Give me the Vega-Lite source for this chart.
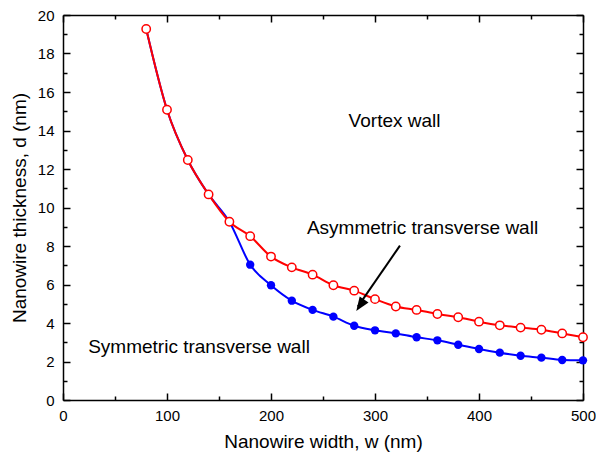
{
  "$schema": "https://vega.github.io/schema/vega-lite/v6.json",
  "width": 520,
  "height": 385,
  "autosize": {"type": "none"},
  "padding": {"left": 63, "top": 15, "right": 13, "bottom": 57},
  "background": "white",
  "config": {
    "view": {"stroke": null},
    "font": "Liberation Sans",
    "axis": {
      "domainColor": "black", "domainWidth": 1.5,
      "tickColor": "black", "tickWidth": 1.5,
      "labelColor": "black", "titleColor": "black",
      "labelFont": "Liberation Sans", "titleFont": "Liberation Sans",
      "labelFontSize": 15, "titleFontSize": 19, "titleFontWeight": "normal",
      "labelFlush": false, "labelOverlap": false,
      "grid": false
    }
  },
  "datasets": {
    "curves": [
      {"wall": "Symmetric", "w": 80, "d": 19.27, "marker": false},
      {"wall": "Symmetric", "w": 100, "d": 15.08, "marker": false},
      {"wall": "Symmetric", "w": 120, "d": 12.47, "marker": false},
      {"wall": "Symmetric", "w": 140, "d": 10.68, "marker": false},
      {"wall": "Symmetric", "w": 160, "d": 9.26, "marker": false},
      {"wall": "Symmetric", "w": 180, "d": 7.03, "marker": true},
      {"wall": "Symmetric", "w": 200, "d": 5.96, "marker": true},
      {"wall": "Symmetric", "w": 220, "d": 5.16, "marker": true},
      {"wall": "Symmetric", "w": 240, "d": 4.68, "marker": true},
      {"wall": "Symmetric", "w": 260, "d": 4.33, "marker": true},
      {"wall": "Symmetric", "w": 280, "d": 3.86, "marker": true},
      {"wall": "Symmetric", "w": 300, "d": 3.62, "marker": true},
      {"wall": "Symmetric", "w": 320, "d": 3.46, "marker": true},
      {"wall": "Symmetric", "w": 340, "d": 3.26, "marker": true},
      {"wall": "Symmetric", "w": 360, "d": 3.1, "marker": true},
      {"wall": "Symmetric", "w": 380, "d": 2.87, "marker": true},
      {"wall": "Symmetric", "w": 400, "d": 2.65, "marker": true},
      {"wall": "Symmetric", "w": 420, "d": 2.46, "marker": true},
      {"wall": "Symmetric", "w": 440, "d": 2.3, "marker": true},
      {"wall": "Symmetric", "w": 460, "d": 2.2, "marker": true},
      {"wall": "Symmetric", "w": 480, "d": 2.08, "marker": true},
      {"wall": "Symmetric", "w": 500, "d": 2.06, "marker": true},
      {"wall": "Asymmetric", "w": 80, "d": 19.27, "marker": true},
      {"wall": "Asymmetric", "w": 100, "d": 15.08, "marker": true},
      {"wall": "Asymmetric", "w": 120, "d": 12.47, "marker": true},
      {"wall": "Asymmetric", "w": 140, "d": 10.68, "marker": true},
      {"wall": "Asymmetric", "w": 160, "d": 9.26, "marker": true},
      {"wall": "Asymmetric", "w": 180, "d": 8.51, "marker": true},
      {"wall": "Asymmetric", "w": 200, "d": 7.45, "marker": true},
      {"wall": "Asymmetric", "w": 220, "d": 6.89, "marker": true},
      {"wall": "Asymmetric", "w": 240, "d": 6.51, "marker": true},
      {"wall": "Asymmetric", "w": 260, "d": 5.96, "marker": true},
      {"wall": "Asymmetric", "w": 280, "d": 5.68, "marker": true},
      {"wall": "Asymmetric", "w": 300, "d": 5.24, "marker": true},
      {"wall": "Asymmetric", "w": 320, "d": 4.86, "marker": true},
      {"wall": "Asymmetric", "w": 340, "d": 4.68, "marker": true},
      {"wall": "Asymmetric", "w": 360, "d": 4.47, "marker": true},
      {"wall": "Asymmetric", "w": 380, "d": 4.3, "marker": true},
      {"wall": "Asymmetric", "w": 400, "d": 4.07, "marker": true},
      {"wall": "Asymmetric", "w": 420, "d": 3.88, "marker": true},
      {"wall": "Asymmetric", "w": 440, "d": 3.76, "marker": true},
      {"wall": "Asymmetric", "w": 460, "d": 3.65, "marker": true},
      {"wall": "Asymmetric", "w": 480, "d": 3.46, "marker": true},
      {"wall": "Asymmetric", "w": 500, "d": 3.26, "marker": true}
    ],
    "labels": [
      {"text": "Vortex wall", "w": 318.8, "d": 14.5},
      {"text": "Asymmetric transverse wall", "w": 345.7, "d": 8.93},
      {"text": "Symmetric transverse wall", "w": 130.8, "d": 2.75}
    ],
    "arrow": [
      {"w": 324, "d": 8.02, "w2": 283.5, "d2": 4.85}
    ],
    "head": [
      {"w": 282, "d": 4.62}
    ]
  },
  "layer": [
    {
      "data": {"name": "curves"},
      "transform": [{"filter": "datum.wall === 'Symmetric'"}],
      "mark": {"type": "line", "interpolate": "monotone", "color": "#0000ff", "strokeWidth": 2},
      "encoding": {
        "x": {"field": "w", "type": "quantitative", "scale": {"domain": [0, 500], "nice": false},
          "axis": {"orient": "bottom", "title": "Nanowire width, w (nm)",
            "values": [0, 50, 100, 150, 200, 250, 300, 350, 400, 450, 500],
            "labelExpr": "datum.value % 100 === 0 ? datum.label : ''",
            "tickSize": {"condition": {"test": "datum.value % 100 === 0", "value": -7}, "value": -4},
            "labelPadding": 15, "titlePadding": 6}},
        "y": {"field": "d", "type": "quantitative", "scale": {"domain": [0, 20], "nice": false},
          "axis": {"orient": "left", "title": "Nanowire thickness, d (nm)",
            "values": [0,1,2,3,4,5,6,7,8,9,10,11,12,13,14,15,16,17,18,19,20],
            "labelExpr": "datum.value % 2 === 0 ? datum.label : ''",
            "tickSize": {"condition": {"test": "datum.value % 2 === 0", "value": -7}, "value": -4},
            "labelPadding": 16, "titlePadding": 8}}
      }
    },
    {
      "data": {"name": "curves"},
      "transform": [{"filter": "datum.wall === 'Symmetric' && datum.marker"}],
      "mark": {"type": "point", "shape": "circle", "filled": true, "color": "#0000ff", "size": 70, "opacity": 1},
      "encoding": {
        "x": {"field": "w", "type": "quantitative", "axis": null},
        "y": {"field": "d", "type": "quantitative", "axis": null}
      }
    },
    {
      "data": {"name": "curves"},
      "transform": [{"filter": "datum.wall === 'Asymmetric'"}],
      "mark": {"type": "line", "interpolate": "monotone", "color": "#ff0000", "strokeWidth": 2},
      "encoding": {
        "x": {"field": "w", "type": "quantitative",
          "axis": {"orient": "top", "title": null, "labels": false,
            "values": [0, 50, 100, 150, 200, 250, 300, 350, 400, 450, 500],
            "tickSize": {"condition": {"test": "datum.value % 100 === 0", "value": -7}, "value": -4}}},
        "y": {"field": "d", "type": "quantitative",
          "axis": {"orient": "right", "title": null, "labels": false,
            "values": [0,1,2,3,4,5,6,7,8,9,10,11,12,13,14,15,16,17,18,19,20],
            "tickSize": {"condition": {"test": "datum.value % 2 === 0", "value": -7}, "value": -4}}}
      }
    },
    {
      "data": {"name": "curves"},
      "transform": [{"filter": "datum.wall === 'Asymmetric'"}],
      "mark": {"type": "point", "shape": "circle", "filled": true, "fill": "white", "stroke": "#ff0000", "strokeWidth": 1.5, "size": 70, "opacity": 1},
      "encoding": {
        "x": {"field": "w", "type": "quantitative", "axis": null},
        "y": {"field": "d", "type": "quantitative", "axis": null}
      }
    },
    {
      "data": {"name": "arrow"},
      "mark": {"type": "rule", "color": "black", "strokeWidth": 2},
      "encoding": {
        "x": {"field": "w", "type": "quantitative", "axis": null},
        "y": {"field": "d", "type": "quantitative", "axis": null},
        "x2": {"field": "w2"},
        "y2": {"field": "d2"}
      }
    },
    {
      "data": {"name": "head"},
      "mark": {"type": "point", "shape": "M0,0 L-0.38,1 L0.38,1 Z", "filled": true, "color": "black", "size": 784, "angle": 214, "opacity": 1},
      "encoding": {
        "x": {"field": "w", "type": "quantitative", "axis": null},
        "y": {"field": "d", "type": "quantitative", "axis": null}
      }
    },
    {
      "data": {"name": "labels"},
      "mark": {"type": "text", "font": "Liberation Sans", "fontSize": 19, "color": "black", "align": "center", "baseline": "middle"},
      "encoding": {
        "x": {"field": "w", "type": "quantitative", "axis": null},
        "y": {"field": "d", "type": "quantitative", "axis": null},
        "text": {"field": "text"}
      }
    }
  ],
  "resolve": {"axis": {"x": "independent", "y": "independent"}}
}
